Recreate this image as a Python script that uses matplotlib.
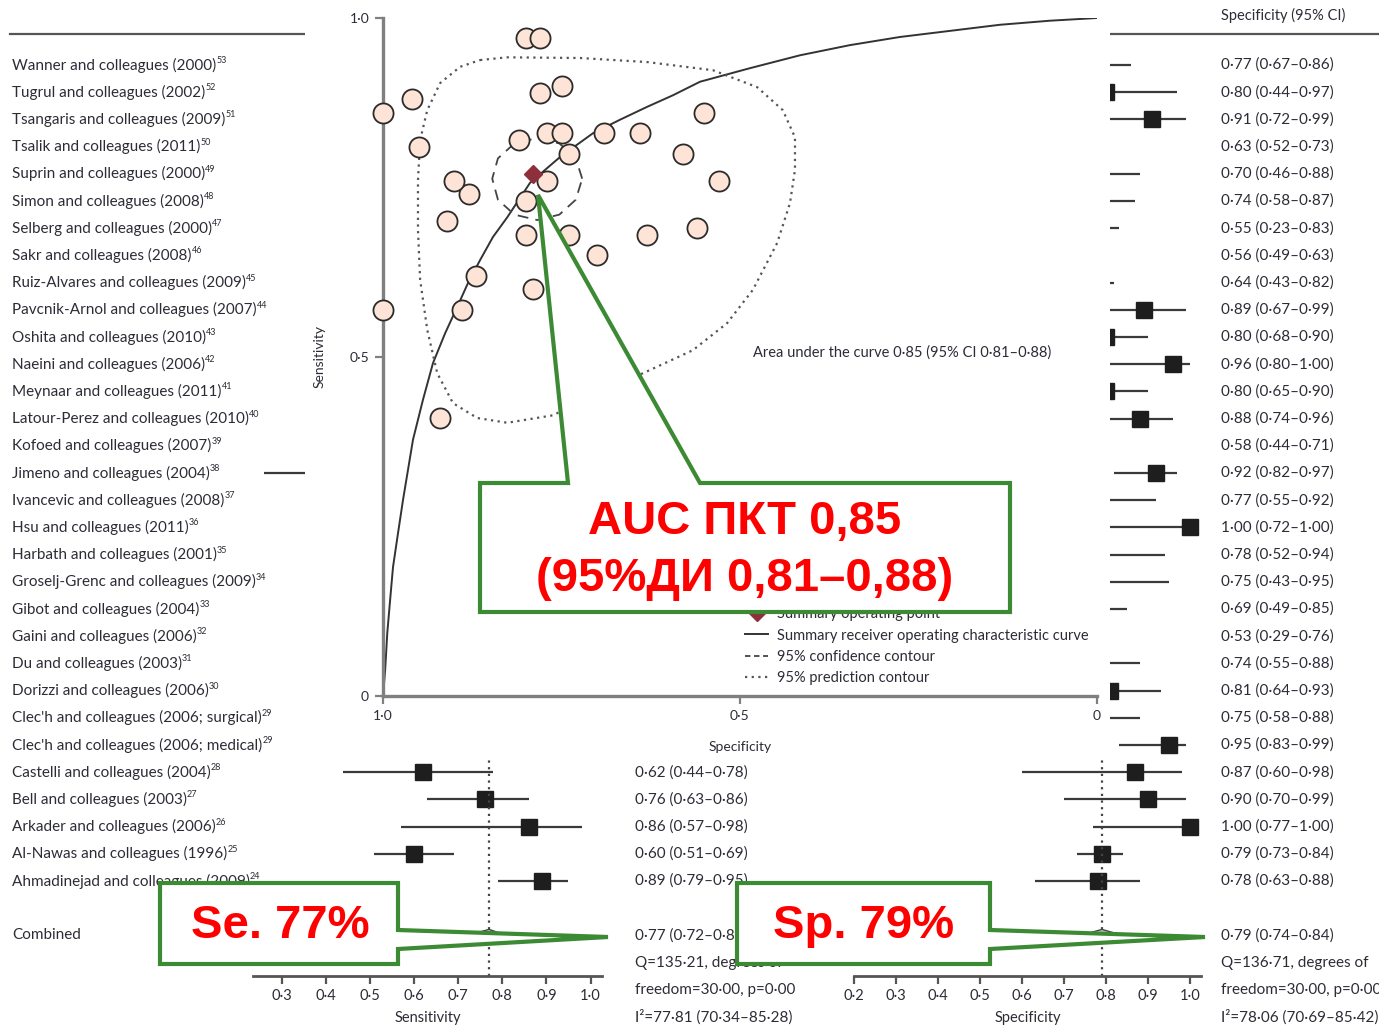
import numpy as np
import matplotlib.pyplot as plt
from matplotlib.lines import Line2D
from matplotlib.patches import Polygon

W, H = 1379, 1029
TXT = '#2f2b36'
plt.rcParams['font.family'] = ['Liberation Sans Narrow', 'Lato', 'DejaVu Sans']

# ---- study data -----------------------------------------------------------
studies = [
    "Wanner and colleagues (2000)", "Tugrul and colleagues (2002)",
    "Tsangaris and colleagues (2009)", "Tsalik and colleagues (2011)",
    "Suprin and colleagues (2000)", "Simon and colleagues (2008)",
    "Selberg and colleagues (2000)", "Sakr and colleagues (2008)",
    "Ruiz-Alvares and colleagues (2009)", "Pavcnik-Arnol and colleagues (2007)",
    "Oshita and colleagues (2010)", "Naeini and colleagues (2006)",
    "Meynaar and colleagues (2011)", "Latour-Perez and colleagues (2010)",
    "Kofoed and colleagues (2007)", "Jimeno and colleagues (2004)",
    "Ivancevic and colleagues (2008)", "Hsu and colleagues (2011)",
    "Harbath and colleagues (2001)", "Groselj-Grenc and colleagues (2009)",
    "Gibot and colleagues (2004)", "Gaini and colleagues (2006)",
    "Du and colleagues (2003)", "Dorizzi and colleagues (2006)",
    "Clec'h and colleagues (2006; surgical)", "Clec'h and colleagues (2006; medical)",
    "Castelli and colleagues (2004)", "Bell and colleagues (2003)",
    "Arkader and colleagues (2006)", "Al-Nawas and colleagues (1996)",
    "Ahmadinejad and colleagues (2009)",
]
refs = [53, 52, 51, 50, 49, 48, 47, 46, 45, 44, 43, 42, 41, 40, 39, 38,
        37, 36, 35, 34, 33, 32, 31, 30, 29, 29, 28, 27, 26, 25, 24]

spec = [0.77, 0.80, 0.91, 0.63, 0.70, 0.74, 0.55, 0.56, 0.64, 0.89, 0.80,
        0.96, 0.80, 0.88, 0.58, 0.92, 0.77, 1.00, 0.78, 0.75, 0.69, 0.53,
        0.74, 0.81, 0.75, 0.95, 0.87, 0.90, 1.00, 0.79, 0.78]
spec_lo = [0.67, 0.44, 0.72, 0.52, 0.46, 0.58, 0.23, 0.49, 0.43, 0.67, 0.68,
           0.80, 0.65, 0.74, 0.44, 0.82, 0.55, 0.72, 0.52, 0.43, 0.49, 0.29,
           0.55, 0.64, 0.58, 0.83, 0.60, 0.70, 0.77, 0.73, 0.63]
spec_hi = [0.86, 0.97, 0.99, 0.73, 0.88, 0.87, 0.83, 0.63, 0.82, 0.99, 0.90,
           1.00, 0.90, 0.96, 0.71, 0.97, 0.92, 1.00, 0.94, 0.95, 0.85, 0.76,
           0.88, 0.93, 0.88, 0.99, 0.98, 0.99, 1.00, 0.84, 0.88]
# sensitivity of every study (SROC scatter)
sens = [0.83, 0.97, 0.70, 0.68, 0.65, 0.68, 0.86, 0.69, 0.83, 0.57, 0.73,
        0.88, 0.68, 0.74, 0.80, 0.41, 0.76, 0.57, 0.97, 0.90, 0.83, 0.76,
        0.80, 0.82, 0.83, 0.81, 0.62, 0.76, 0.86, 0.60, 0.89]

# sensitivity forest rows with confidence intervals
se_rows = [15, 26, 27, 28, 29, 30]
se_est = [0.41, 0.62, 0.76, 0.86, 0.60, 0.89]
se_lo = [0.26, 0.44, 0.63, 0.57, 0.51, 0.79]
se_hi = [0.58, 0.78, 0.86, 0.98, 0.69, 0.95]

se_pooled = (0.77, 0.72, 0.81)
sp_pooled = (0.79, 0.74, 0.84)
se_het = ["Q=135·21, degrees of", "freedom=30·00, p=0·00", "I²=77·81 (70·34–85·28)"]
sp_het = ["Q=136·71, degrees of", "freedom=30·00, p=0·00", "I²=78·06 (70·69–85·42)"]

# SROC curve and contours (specificity, sensitivity)
roc_spec = [1.0, 0.997, 0.994, 0.990, 0.986, 0.979, 0.972, 0.958, 0.944, 0.930,
            0.913, 0.896, 0.881, 0.864, 0.846, 0.826, 0.794, 0.773, 0.752,
            0.706, 0.668, 0.630, 0.594, 0.556, 0.486, 0.416, 0.346, 0.276,
            0.206, 0.136, 0.066, 0.0]
roc_sens = [0.0, 0.038, 0.093, 0.142, 0.190, 0.240, 0.289, 0.378, 0.437, 0.491,
            0.535, 0.574, 0.609, 0.643, 0.677, 0.706, 0.757, 0.776, 0.795,
            0.830, 0.850, 0.869, 0.886, 0.906, 0.926, 0.945, 0.960, 0.972,
            0.981, 0.990, 0.996, 1.0]
conf_spec = [0.721, 0.730, 0.753, 0.784, 0.816, 0.839, 0.847, 0.839, 0.816,
             0.784, 0.753, 0.730]
conf_sens = [0.763, 0.793, 0.815, 0.823, 0.815, 0.793, 0.763, 0.732, 0.710,
             0.702, 0.710, 0.732]
pred_spec = [0.864, 0.826, 0.724, 0.630, 0.538, 0.476, 0.440, 0.423, 0.423,
             0.430, 0.448, 0.482, 0.518, 0.566, 0.636, 0.700, 0.762, 0.826,
             0.868, 0.902, 0.924, 0.938, 0.948, 0.951, 0.951, 0.948, 0.938,
             0.920, 0.892]
pred_sens = [0.938, 0.942, 0.941, 0.935, 0.923, 0.898, 0.864, 0.824, 0.776,
             0.727, 0.668, 0.599, 0.550, 0.510, 0.476, 0.447, 0.414, 0.403,
             0.410, 0.432, 0.476, 0.540, 0.614, 0.687, 0.761, 0.820, 0.864,
             0.904, 0.928]
auc_text = "Area under the curve 0·85 (95% CI 0·81–0·88)"


def fmt(e, l, h):
    return f"{e:.2f} ({l:.2f}–{h:.2f})".replace('.', '·')


def fx(px):
    return px / W


def fy(py):
    return 1 - py / H


def row_px(i):
    return 65 + 27.2 * i


fig = plt.figure(figsize=(W / 100, H / 100), dpi=100)

# ---- page layer: labels and value columns ---------------------------------
page = fig.add_axes([0, 0, 1, 1], zorder=0)
page.set_xlim(0, W)
page.set_ylim(H, 0)
page.axis('off')

page.plot([10, W], [34, 34], color='#555555', lw=1.6)
page.text(635, 15, "Sensitivity (95% CI)", fontsize=10.5, color=TXT, va='center')
page.text(1221, 15, "Specificity (95% CI)", fontsize=10.5, color=TXT, va='center')

for i, name in enumerate(studies):
    t = page.text(12, row_px(i), name, fontsize=11, color=TXT, va='center')
    page.annotate(str(refs[i]), xy=(1.0, 0.8), xycoords=t, fontsize=6.5,
                  color=TXT, va='center', ha='left')
    page.text(1221, row_px(i), fmt(spec[i], spec_lo[i], spec_hi[i]),
              fontsize=11, color=TXT, va='center')

for r, e, l, h in zip(se_rows, se_est, se_lo, se_hi):
    page.text(635, row_px(r), fmt(e, l, h), fontsize=11, color=TXT, va='center')

page.text(12, row_px(32), "Combined", fontsize=11, color=TXT, va='center')
page.text(635, row_px(32), fmt(*se_pooled), fontsize=11, color=TXT, va='center')
page.text(1221, row_px(32), fmt(*sp_pooled), fontsize=11, color=TXT, va='center')
for k in range(3):
    page.text(635, row_px(33 + k), se_het[k], fontsize=11, color=TXT, va='center')
    page.text(1221, row_px(33 + k), sp_het[k], fontsize=11, color=TXT, va='center')

# ---- forest plots ---------------------------------------------------------
AX_TOP, AX_BOT = 40, 976
ROW_TOP, ROW_BOT = (AX_TOP - 65) / 27.2, (AX_BOT - 65) / 27.2


def forest_axes(x0, x1, ticks, label):
    ax = fig.add_axes([fx(x0), fy(AX_BOT), fx(x1) - fx(x0), (AX_BOT - AX_TOP) / H],
                      zorder=1)
    ax.patch.set_alpha(0)
    ax.set_xlim(0.235, 1.026)
    ax.set_ylim(ROW_BOT, ROW_TOP)
    for s in ['left', 'right', 'top']:
        ax.spines[s].set_visible(False)
    ax.spines['bottom'].set_color('#555555')
    ax.spines['bottom'].set_linewidth(2)
    ax.set_yticks([])
    ax.set_xticks(ticks)
    ax.set_xticklabels([f"{v:.1f}".replace('.', '·') for v in ticks])
    ax.tick_params(axis='x', direction='out', length=6, width=1.6, color='#555555',
                   labelsize=10.5, labelcolor=TXT, pad=3)
    ax.set_xlabel(label, fontsize=10.5, color=TXT, labelpad=6)
    return ax


def pooled_diamond(ax, est, lo, hi, row):
    ax.add_patch(Polygon([(lo, row), (est, row - 0.22), (hi, row), (est, row + 0.22)],
                         closed=True, facecolor='#d0d0d0', edgecolor='#444444', lw=1))


ax_se = forest_axes(253, 602, np.arange(0.3, 1.01, 0.1), "Sensitivity")
ax_se.hlines(se_rows, se_lo, se_hi, color='#3a3a3a', lw=1.6)
ax_se.plot(se_est, se_rows, 's', ms=11, color='#1e1e1e')
ax_se.axvline(se_pooled[0], color='#444444', lw=1.6, ls=(0, (1, 2)))
pooled_diamond(ax_se, *se_pooled, 32)

ax_sp = forest_axes(854, 1201, np.arange(0.2, 1.01, 0.1), "Specificity")
rows = np.arange(len(spec))
ax_sp.hlines(rows, spec_lo, spec_hi, color='#3a3a3a', lw=1.6)
ax_sp.plot(spec, rows, 's', ms=11, color='#1e1e1e')
ax_sp.axvline(sp_pooled[0], color='#444444', lw=1.6, ls=(0, (1, 2)))
pooled_diamond(ax_sp, *sp_pooled, 32)

# ---- SROC panel -----------------------------------------------------------
mask = fig.add_axes([fx(305), fy(758), fx(1110) - fx(305), 758 / H], zorder=2)
mask.set_facecolor('white')
mask.set_xticks([])
mask.set_yticks([])
for s in mask.spines.values():
    s.set_visible(False)

roc = fig.add_axes([fx(383), fy(696), (1097 - 383) / W, (696 - 18) / H], zorder=3)
roc.patch.set_alpha(0)
roc.set_xlim(1, 0)
roc.set_ylim(0, 1)
for s in ['right', 'top']:
    roc.spines[s].set_visible(False)
for s in ['left', 'bottom']:
    roc.spines[s].set_color('#808080')
    roc.spines[s].set_linewidth(2.4)
roc.set_xticks([1.0, 0.5, 0.0])
roc.set_xticklabels(["1·0", "0·5", "0"])
roc.set_yticks([0.0, 0.5, 1.0])
roc.set_yticklabels(["0", "0·5", "1·0"])
roc.tick_params(direction='out', length=6, width=1.6, color='#808080',
                labelsize=10, labelcolor=TXT, pad=4)
roc.set_xlabel("Specificity", fontsize=10, color=TXT)
roc.set_ylabel("Sensitivity", fontsize=10, color=TXT)
roc.xaxis.set_label_coords(0.5, -(741 - 696) / (696 - 18))
roc.yaxis.set_label_coords(-(383 - 326) / (1097 - 383), 0.5)

roc.plot(roc_spec, roc_sens, color='#333333', lw=1.4, zorder=2)
roc.plot(conf_spec + conf_spec[:1], conf_sens + conf_sens[:1], color='#444444',
         lw=1.3, ls=(0, (6, 4)), zorder=2)
roc.plot(pred_spec + pred_spec[:1], pred_sens + pred_sens[:1], color='#555555',
         lw=1.6, ls=(0, (1, 2)), zorder=2)
roc.scatter(spec, sens, s=210, facecolor='#fde4d6', edgecolor='#2b2b2b', lw=1.3,
            zorder=4, clip_on=False)
roc.plot(sp_pooled[0], se_pooled[0], 'D', ms=9, color='#8e2f3c', zorder=5)
roc.text(fx(753), fy(353), auc_text, transform=fig.transFigure, fontsize=10.5,
         color=TXT, va='center', ha='left')

handles = [
    Line2D([], [], ls='none', marker='o', ms=12, mfc='#fde4d6', mec='#2b2b2b'),
    Line2D([], [], ls='none', marker='D', ms=8, color='#8e2f3c'),
    Line2D([], [], color='#333333', lw=1.4),
    Line2D([], [], color='#444444', lw=1.3, ls=(0, (3, 2))),
    Line2D([], [], color='#555555', lw=1.6, ls=(0, (1, 2))),
]
labels = ["Study estimate", "Summary operating point",
          "Summary receiver operating characteristic curve",
          "95% confidence contour", "95% prediction contour"]
roc.legend(handles, labels, loc='upper left', bbox_to_anchor=(fx(745), fy(586)),
           bbox_transform=fig.transFigure, frameon=False, fontsize=10.5,
           handlelength=1.6, handletextpad=0.6, labelspacing=0.5,
           borderpad=0, borderaxespad=0, labelcolor=TXT)

# ---- callouts -------------------------------------------------------------
top = fig.add_axes([0, 0, 1, 1], zorder=5)
top.set_xlim(0, W)
top.set_ylim(H, 0)
top.axis('off')

GREEN = '#3c8a34'
callouts = [
    [(480, 483), (568, 483), (538, 195), (700, 483), (1010, 483), (1010, 612), (480, 612)],
    [(160, 883), (398, 883), (398, 930), (608, 937), (398, 949), (398, 964), (160, 964)],
    [(737, 883), (990, 883), (990, 930), (1205, 937), (990, 949), (990, 964), (737, 964)],
]
for pts in callouts:
    top.add_patch(Polygon(pts, closed=True, facecolor='white', edgecolor=GREEN,
                          lw=3, joinstyle='miter'))

big = dict(color='#ff0000', fontsize=34, fontweight='bold', ha='center', va='center',
           family=['Liberation Sans', 'DejaVu Sans'])
top.text(745, 522, "AUC ПКТ 0,85", **big)
top.text(745, 579, "(95%ДИ 0,81–0,88)", **big)
top.text(280, 926, "Se. 77%", **big)
top.text(864, 926, "Sp. 79%", **big)

fig.savefig("out.png", dpi=100)
